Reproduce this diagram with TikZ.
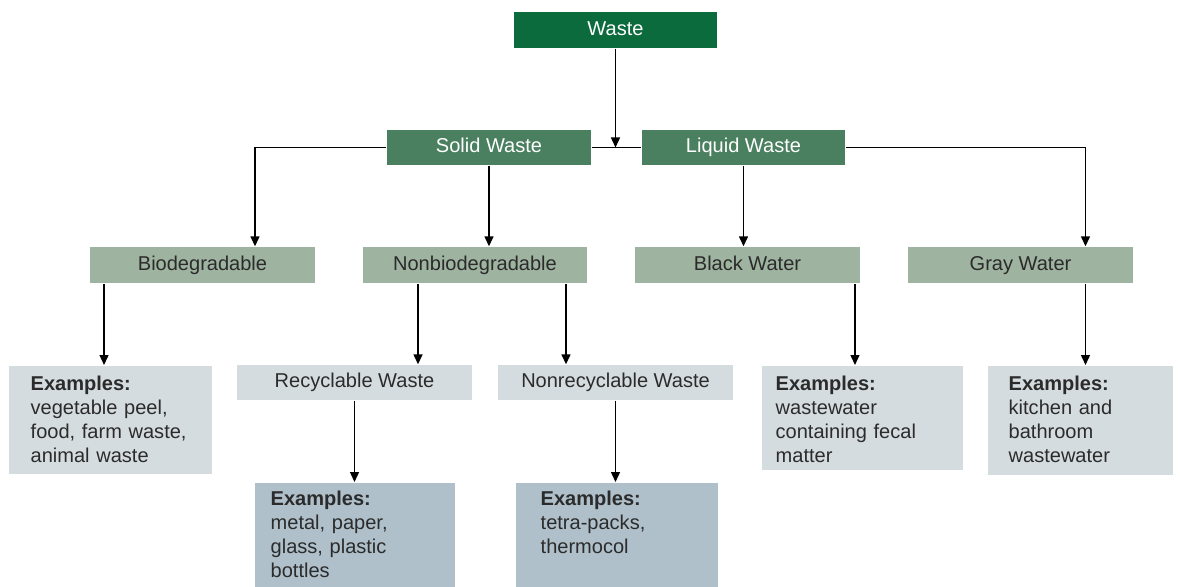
\documentclass[tikz,border=0pt]{standalone}
\usepackage{fontspec}
\setmainfont{Liberation Sans}
\usetikzlibrary{arrows.meta}
\definecolor{wastegreen}{HTML}{0B6B3D}
\definecolor{kindgreen}{HTML}{4A7F5F}
\definecolor{typegreen}{HTML}{9EB3A0}
\definecolor{examplegray}{HTML}{D5DCE0}
\definecolor{examplblue}{HTML}{AFC0CB}
\definecolor{textgray}{HTML}{2B2B2B}
\begin{document}
\begin{tikzpicture}[
		x=0.02cm, y=-0.02cm,
		every node/.style={inner sep=0pt, font=\fontsize{11.4}{13.66}\selectfont},
		onerow/.style={text height=0.29cm, text depth=0.08cm},
		topbox/.style={onerow, fill=wastegreen, text=white, minimum width=4.06cm, minimum height=0.72cm},
		kindbox/.style={onerow, fill=kindgreen, text=white, minimum width=4.08cm, minimum height=0.7cm},
		typebox/.style={onerow, fill=typegreen, text=textgray, minimum width=4.5cm, minimum height=0.72cm},
		subbox/.style={onerow, fill=examplegray, text=textgray, minimum width=4.7cm, minimum height=0.7cm},
		exbox/.style={fill=examplegray, text=textgray, anchor=north west, align=left, text height=0.5cm},
		exdark/.style={exbox, fill=examplblue, text height=0.46cm},
		arr/.style={-{Triangle[length=2mm,width=1.8mm]}},
		every path/.style={line width=0.8pt}
		]
		
		\useasboundingbox (0,0) rectangle (1180,587);
		
		\node[topbox] (waste) at (615.5,30) {Waste};
		\node[kindbox] (solid) at (489,147.5) {Solid Waste};
		\node[kindbox] (liquid) at (743.5,147.5) {Liquid Waste};
		
		\node[typebox] (bio) at (202.5,265) {Biodegradable};
		\node[typebox] (nonbio) at (475,265) {Nonbiodegradable};
		\node[typebox] (black) at (747.5,265) {Black Water};
		\node[typebox] (gray) at (1020.5,265) {Gray Water};
		
		\node[exbox, inner xsep=0.44cm, text width=3.18cm, text depth=1.66cm] (exbio) at (8,365)
			{\textbf{Examples:}\\vegetable peel,\\food, farm waste,\\animal waste};
		\node[subbox] (recyc) at (354.5,382.5) {Recyclable Waste};
		\node[subbox] (nonrecyc) at (615.5,382.5) {Nonrecyclable Waste};
		\node[exbox, inner xsep=0.28cm, text width=3.46cm, text depth=1.58cm] (exblack) at (761,365)
			{\textbf{Examples:}\\wastewater\\containing fecal\\matter};
		\node[exbox, inner xsep=0.42cm, text width=2.86cm, text depth=1.68cm] (exgray) at (987,365)
			{\textbf{Examples:}\\kitchen and\\bathroom\\wastewater};
		
		\node[exdark, inner xsep=0.32cm, text width=3.36cm, text depth=1.64cm] (exrecyc) at (254,482)
			{\textbf{Examples:}\\metal, paper,\\glass, plastic\\bottles};
		\node[exdark, inner xsep=0.5cm, text width=3.04cm, text depth=1.64cm] (exnonrecyc) at (515,482)
			{\textbf{Examples:}\\tetra-packs,\\thermocol};
		
		\draw[arr] (waste.south) -- (waste.south |- solid.east);
		\draw (solid.east) -- (liquid.west);
		\draw[arr] (solid.west) -| ([xshift=1.05cm]bio.north);
		\draw[arr] (liquid.east) -| ([xshift=1.3cm]gray.north);
		\draw[arr] (solid.south) -- (solid.south |- nonbio.north);
		\draw[arr] (liquid.south) -- (liquid.south |- black.north);
		
		\draw[arr] ([xshift=-1.97cm]bio.south) -- ([xshift=-1.97cm]bio.south |- exbio.north);
		\draw[arr] ([xshift=-1.14cm]nonbio.south) -- ([xshift=-1.14cm]nonbio.south |- recyc.north);
		\draw[arr] ([xshift=1.82cm]nonbio.south) -- ([xshift=1.82cm]nonbio.south |- nonrecyc.north);
		\draw[arr] ([xshift=2.15cm]black.south) -- ([xshift=2.15cm]black.south |- exblack.north);
		\draw[arr] ([xshift=1.3cm]gray.south) -- ([xshift=1.3cm]gray.south |- exgray.north);
		
		\draw[arr] (recyc.south) -- (recyc.south |- exrecyc.north);
		\draw[arr] (nonrecyc.south) -- (nonrecyc.south |- exnonrecyc.north);
		
	\end{tikzpicture}
\end{document}
